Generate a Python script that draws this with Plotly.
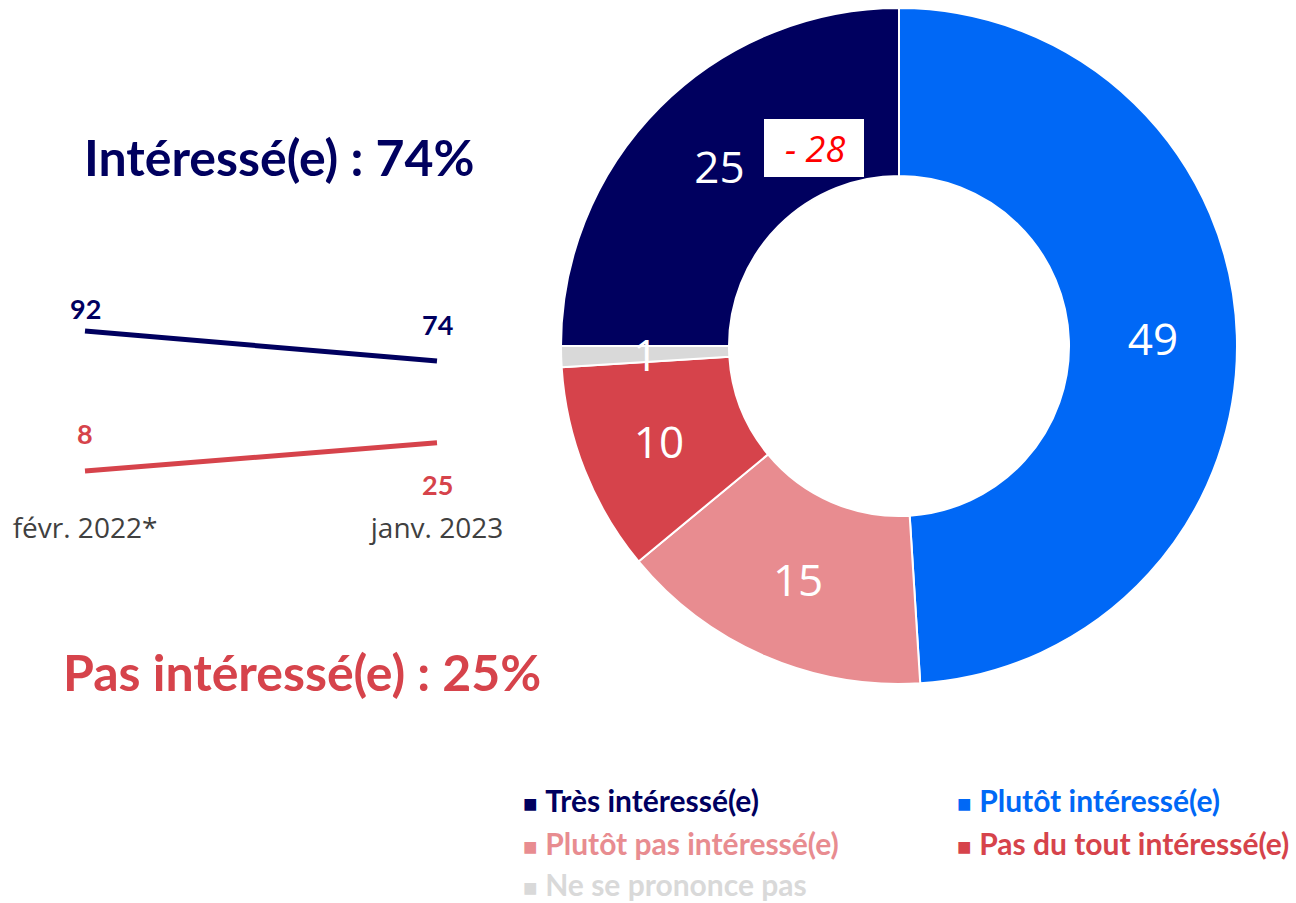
import math
import plotly.graph_objects as go

# ---- Data ----
slice_labels = ["Très intéressé(e)", "Plutôt intéressé(e)", "Plutôt pas intéressé(e)",
                "Pas du tout intéressé(e)", "Ne se prononce pas"]
slice_values = [25, 49, 15, 10, 1]
slice_colors = ["#00005F", "#0068F6", "#E88C90", "#D6434B", "#D9D9D9"]

trend_dates = ["févr. 2022*", "janv. 2023"]
trend_interesse = [92, 74]
trend_pas_interesse = [8, 25]

evolution_text = "- 28"
title_interesse = "Intéressé(e) : 74%"
title_pas = "Pas intéressé(e) : 25%"

W, H = 1296, 903
NAVY, RED = "#00005F", "#D6434B"

fig = go.Figure()

# Donut
cx, cy, R = 899, 346, 338
HOLE = 0.503
ROT = 270
dom = dict(x=[(cx - R) / W, (cx + R) / W], y=[(H - cy - R) / H, (H - cy + R) / H])
small = [v < 5 for v in slice_values]
fig.add_trace(go.Pie(
    labels=slice_labels, values=slice_values, sort=False, direction="clockwise",
    rotation=ROT, hole=HOLE,
    marker=dict(colors=slice_colors, line=dict(color="white", width=2)),
    text=["" if s else str(v) for v, s in zip(slice_values, small)],
    texttemplate="%{text}", textposition="inside", insidetextorientation="horizontal",
    textfont=dict(family="Open Sans", size=44, color="white"),
    domain=dom, showlegend=False, hoverinfo="label+value",
))

annotations = []
# label of the thin slice(s): placed at the slice's mid-angle, mid-ring radius
total = sum(slice_values)
cum = 0
for v, s in zip(slice_values, small):
    if s:
        ang = math.radians(ROT + (cum + v / 2) / total * 360)
        r = R * (1 + HOLE) / 2
        annotations.append(dict(x=(cx + r * math.sin(ang)) / W,
                                y=1 - (cy - r * math.cos(ang)) / H,
                                xref="paper", yref="paper", xanchor="center", yanchor="middle",
                                text=str(v), showarrow=False,
                                font=dict(family="Open Sans", size=44, color="white")))
    cum += v

# Trend lines
fig.add_trace(go.Scatter(x=trend_dates, y=trend_interesse, mode="lines",
                         line=dict(color=NAVY, width=5), showlegend=False,
                         xaxis="x", yaxis="y"))
fig.add_trace(go.Scatter(x=trend_dates, y=trend_pas_interesse, mode="lines",
                         line=dict(color=RED, width=5), showlegend=False,
                         xaxis="x", yaxis="y"))

lab_font = dict(family="Lato", size=27, color=NAVY)
for xv, yv, sh in zip(trend_dates, trend_interesse, [22, 36]):
    annotations.append(dict(x=xv, y=yv, xref="x", yref="y", text=f"<b>{yv}</b>",
                            showarrow=False, yshift=sh, font=lab_font))
for xv, yv, sh in zip(trend_dates, trend_pas_interesse, [37, -42]):
    annotations.append(dict(x=xv, y=yv, xref="x", yref="y", text=f"<b>{yv}</b>",
                            showarrow=False, yshift=sh, font=dict(lab_font, color=RED)))

# Titles
annotations.append(dict(x=82 / W, y=1 - 157 / H, xref="paper", yref="paper", xanchor="left",
                        yanchor="middle", text=f"<b>{title_interesse}</b>", showarrow=False,
                        font=dict(family="Lato", size=50, color=NAVY)))
annotations.append(dict(x=61 / W, y=1 - 672 / H, xref="paper", yref="paper", xanchor="left",
                        yanchor="middle", text=f"<b>{title_pas}</b>", showarrow=False,
                        font=dict(family="Lato", size=50, color=RED)))

# Evolution box
annotations.append(dict(x=815 / W, y=1 - 148 / H, xref="paper", yref="paper",
                        xanchor="center", yanchor="middle",
                        text=f"<i>{evolution_text}</i>", showarrow=False,
                        font=dict(family="Open Sans", size=36, color="#FF0000")))
shapes = [dict(type="rect", xref="paper", yref="paper", x0=764 / W, x1=864 / W,
               y0=1 - 177 / H, y1=1 - 119 / H, fillcolor="white", line=dict(width=0),
               layer="above")]

# Custom legend
leg_pos = [(521, 800), (955, 800), (521, 843), (955, 843), (521, 884)]
for (lx, ly), lab, col in zip(leg_pos, slice_labels, slice_colors):
    annotations.append(dict(x=lx / W, y=1 - ly / H, xref="paper", yref="paper",
                            xanchor="left", yanchor="middle",
                            text=f"<span style='font-size:24px'>■</span> <b>{lab}</b>",
                            showarrow=False, font=dict(family="Lato", size=30, color=col)))

y_lo, y_hi = -15, 100
px_per = 140 / 84
top_px = 331 - (y_hi - 92) * px_per
bot_px = 471 + (8 - y_lo) * px_per
fig.update_layout(
    template="none",
    width=W, height=H, margin=dict(l=0, r=0, t=0, b=0, pad=0, autoexpand=False),
    paper_bgcolor="white", plot_bgcolor="white",
    xaxis=dict(domain=[(85 - 0.05 * 352) / W, (437 + 0.05 * 352) / W], range=[-0.05, 1.05],
               type="category", showgrid=False, zeroline=False, showline=False, ticks="",
               automargin=False,
               tickfont=dict(family="Open Sans", size=28, color="#404040")),
    yaxis=dict(domain=[1 - bot_px / H, 1 - top_px / H], range=[y_lo, y_hi], automargin=False,
               showgrid=False, zeroline=False, showticklabels=False, showline=False),
    annotations=annotations, shapes=shapes,
    uniformtext=dict(minsize=44, mode="show"),
)
fig.write_html("out.html", config={"displayModeBar": False},
               post_script="document.body.style.margin='0';document.body.style.overflow='hidden';")
